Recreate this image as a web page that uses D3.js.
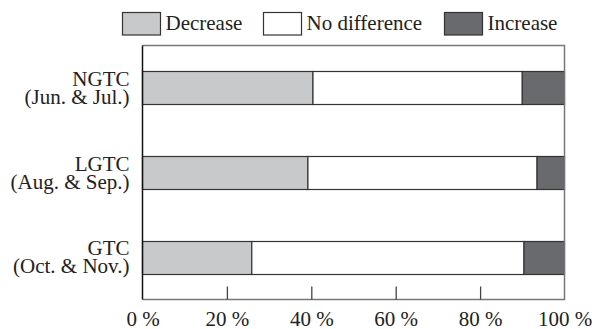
<!DOCTYPE html>
<html><head><meta charset="utf-8">
<script src="https://cdn.jsdelivr.net/npm/d3@7"></script>
<style>body{margin:0;background:#fff;}svg{display:block;}text{font-family:"Liberation Serif","Times New Roman",serif;fill:#222;}</style>
</head><body><svg id="c" width="592" height="329"></svg>
<script>
const categories = [["NGTC","(Jun. & Jul.)"],["LGTC","(Aug. & Sep.)"],["GTC","(Oct. & Nov.)"]];
const seriesNames = ["Decrease","No difference","Increase"];
const decrease = [40.4, 39.2, 25.9];
const noDifference = [49.6, 54.3, 64.5];
const increase = [10.0, 6.5, 9.6];
const tickValues = [0,20,40,60,80,100];
const tickLabels = ["0 %","20 %","40 %","60 %","80 %","100 %"];
const colors = ["#c8c9cb","#ffffff","#696a6d"];

const svg = d3.select("#c");
const m = {l:142.5, r:564.5, t:45.5, b:299.5};
const x = d3.scaleLinear().domain([0,100]).range([m.l, m.r]);
const y = d3.scalePoint().domain(categories.map(d=>d[0])).range([m.t, m.b]).padding(0.5);
const barH = 33;

const rows = categories.map((c,i)=>({key:c[0], vals:[decrease[i], noDifference[i], increase[i]]}));
const stackData = rows.map(r=>{let acc=0; return r.vals.map((v,j)=>{const s={key:r.key,j,x0:acc,x1:acc+v}; acc+=v; return s;});}).flat();

// bars
svg.append("g").selectAll("rect").data(stackData).join("rect")
  .attr("x", d=>x(d.x0)).attr("width", d=>x(d.x1)-x(d.x0))
  .attr("y", d=>Math.round(y(d.key)-barH/2)+0.5).attr("height", barH)
  .attr("fill", d=>colors[d.j]).attr("stroke","#333").attr("stroke-width",1.2);

// frame
svg.append("path").attr("d",`M${m.l},${m.t}H${m.r}V${m.b}H${m.l}`).attr("fill","none").attr("stroke","#777").attr("stroke-width",1.5);
svg.append("line").attr("x1",m.l).attr("x2",m.l).attr("y1",m.t).attr("y2",m.b).attr("stroke","#111").attr("stroke-width",1.5);

// x axis ticks (inward)
const xAxis = d3.axisBottom(x).tickValues(tickValues).tickFormat((d,i)=>tickLabels[i]).tickSizeInner(-13).tickSizeOuter(0).tickPadding(26);
const gx = svg.append("g").attr("transform",`translate(0,${m.b})`).call(xAxis);
gx.select(".domain").remove();
gx.selectAll(".tick line").attr("stroke","#444").attr("stroke-width",1.3)
  .attr("display",(d)=> (d===0||d===100)?"none":null);
gx.selectAll(".tick text").attr("font-size","21px").attr("fill","#222").attr("font-family","Liberation Serif").attr("dy","0");

// y labels
const gy = svg.append("g");
categories.forEach(c=>{
  const t = gy.append("text").attr("text-anchor","end").attr("font-size","21px");
  t.append("tspan").attr("x", m.l-13).attr("y", y(c[0])-2).text(c[0]);
  t.append("tspan").attr("x", m.l-13).attr("y", y(c[0])+16).text(c[1]);
});

// legend
const legX = [122.5, 263.5, 444.5];
const leg = svg.append("g");
seriesNames.forEach((n,i)=>{
  leg.append("rect").attr("x",legX[i]).attr("y",12.5).attr("width",38).attr("height",22.5)
    .attr("fill",colors[i]).attr("stroke","#333").attr("stroke-width",1.2);
  leg.append("text").attr("x",legX[i]+43).attr("y",30).attr("font-size","21px").text(n);
});
</script></body></html>
